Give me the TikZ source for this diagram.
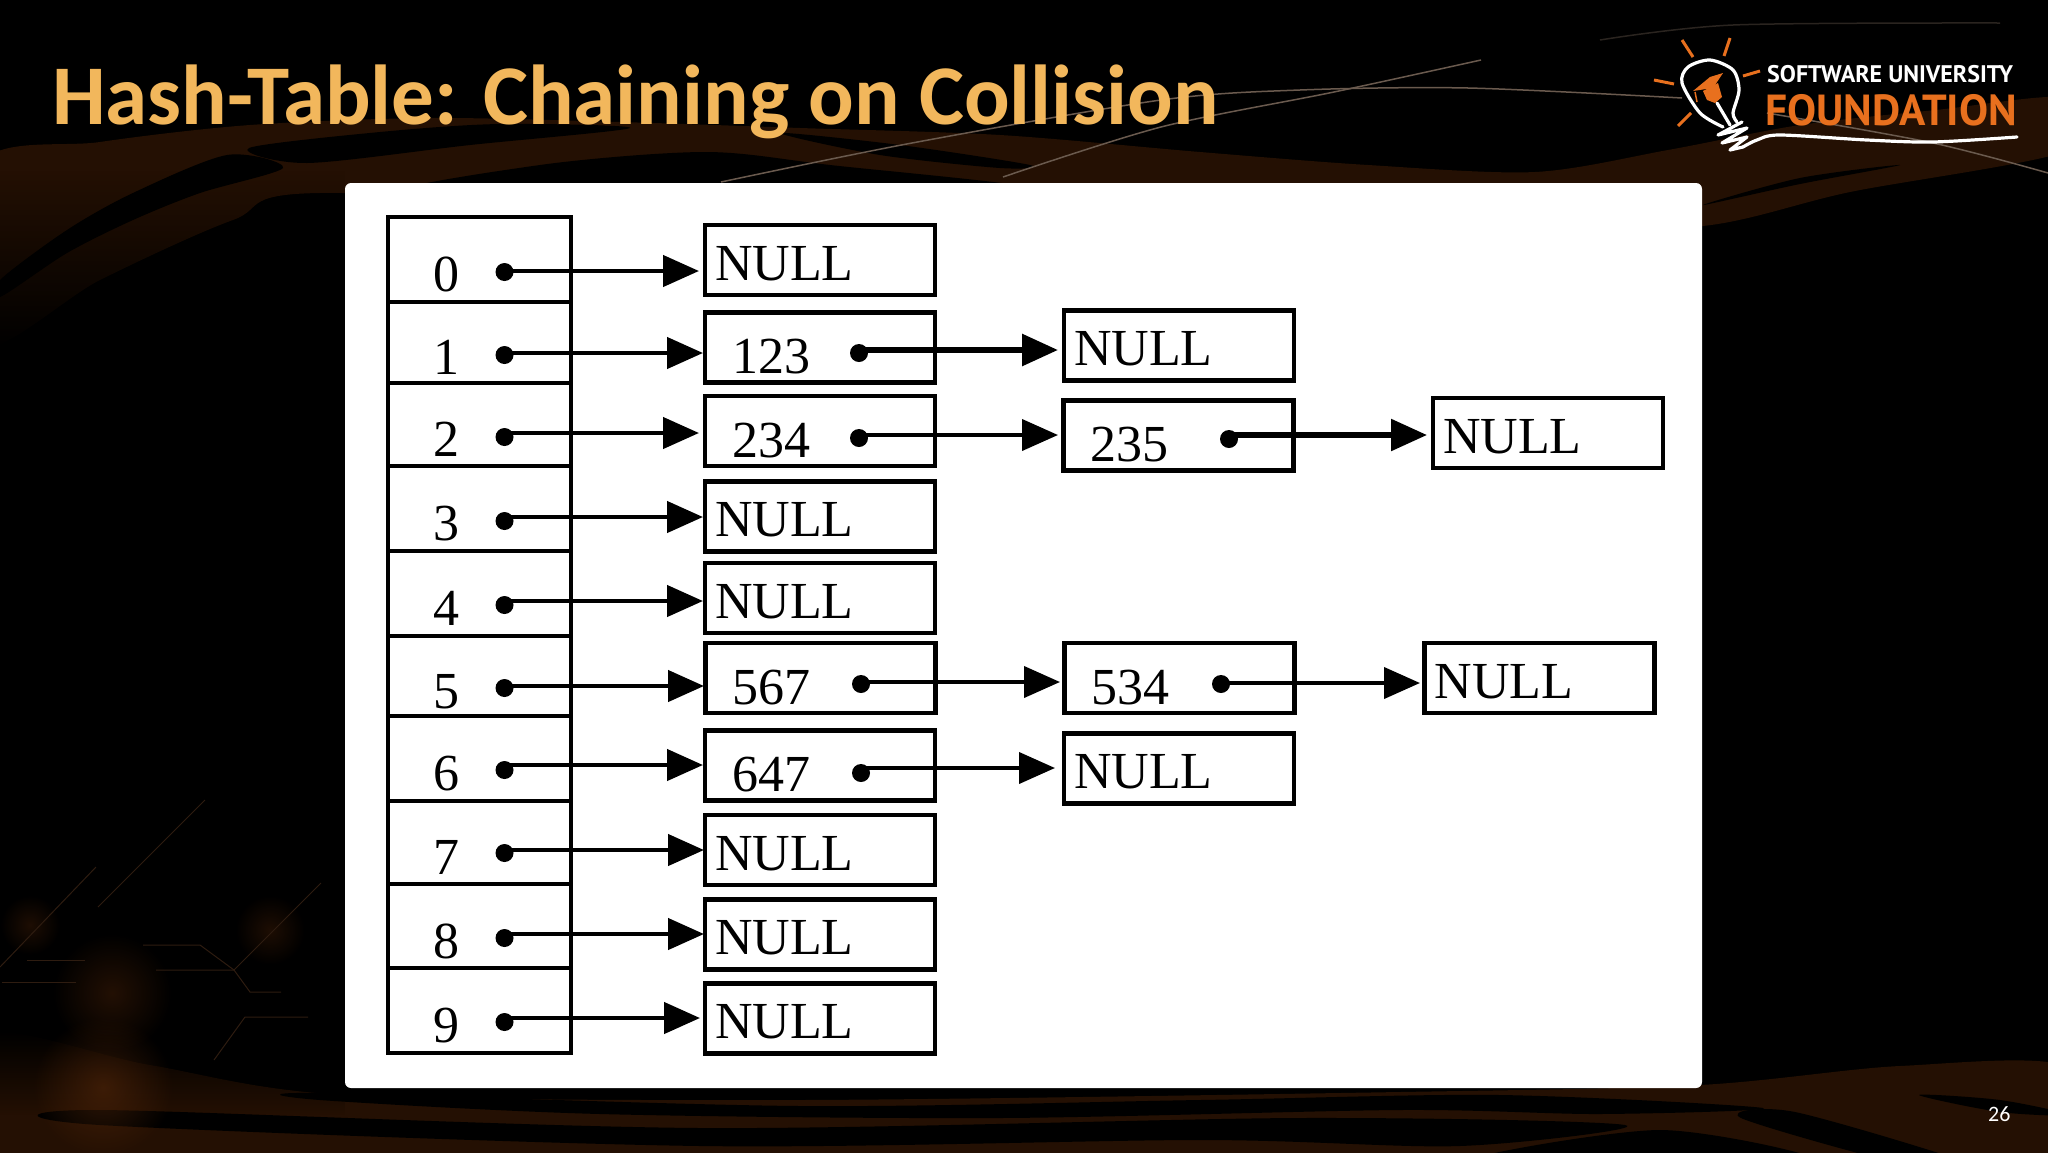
\documentclass[tikz,border=0pt]{standalone}
\usepackage{fontspec}
\setmainfont{Liberation Serif}
\newfontfamily\titlefont{Carlito}
\newfontfamily\logofont{PT Sans}
\usetikzlibrary{arrows.meta,positioning,fadings}
\definecolor{titlecol}{HTML}{F2B75C}
\definecolor{logoorange}{HTML}{E8701E}
\definecolor{banddark}{HTML}{241003}
\definecolor{bandmid}{HTML}{4E2609}
\definecolor{thread}{HTML}{6A5A4E}
\definecolor{circuit}{HTML}{2E1C10}
\definecolor{ember}{HTML}{5A2A0A}
\tikzfading[name=emberfade, inner color=transparent!0, outer color=transparent!100]
\tikzset{
  >={Triangle[length=36pt,width=31pt]},
  slot/.style={draw, line width=4.5pt, outer sep=0pt, inner xsep=45pt, inner ysep=0pt, text width=93pt, text height=64pt, text depth=0pt, align=left, font=\fontsize{52}{52}\selectfont},
  nullbox/.style={draw, line width=4.5pt, minimum height=70pt, inner xsep=10pt, inner ysep=0pt, text width=210pt, text height=40pt, text depth=0pt, align=left, font=\fontsize{52}{52}\selectfont},
  valbox/.style={draw, line width=4.5pt, minimum height=70pt, inner xsep=27pt, inner ysep=0pt, text width=176pt, text height=52pt, text depth=0pt, align=left, font=\fontsize{52}{52}\selectfont},
  dot/.style={circle, fill=black, inner sep=0pt, minimum size=18pt},
  glow/.style={fill=#1, path fading=emberfade, fill opacity=.55},
  wire/.style={draw=circuit, line width=1pt},
  strand/.style={draw=thread, line width=1.5pt},
  ray/.style={draw=logoorange, line width=3pt},
  bulb/.style={draw=white, line width=3.2pt, line join=round, line cap=round},
}
\begin{document}
\begin{tikzpicture}[x=1pt, y=-1pt]
  \useasboundingbox (0,0) rectangle (2048,1152);
  \fill[black] (0,0) rectangle (2048,1152);
  \clip (0,0) rectangle (2048,1152);
  % upper bands
  \shade[left color=banddark, middle color=bandmid, right color=banddark] plot[smooth cycle] coordinates {(-20,165) (100,142) (250,125) (430,118) (620,122) (800,128) (1000,135) (1200,152) (1368,165) (1535,172) (1668,150) (1800,125) (1936,110) (2070,98) (2070,150) (1850,192) (1703,226) (1500,230) (1000,230) (343,193) (233,220) (100,280) (-20,345)};
  \fill[black] plot[smooth cycle] coordinates {(0,280) (67,230) (133,193) (227,155) (283,168) (200,193) (133,220) (67,253) (0,297)};
  \fill[black] plot[smooth cycle] coordinates {(249,148) (307,163) (470,145) (630,128) (500,124) (380,132)};
  \fill[black] plot[smooth cycle] coordinates {(780,133) (900,145) (1030,165) (1000,168) (880,155)};
  \fill[black] plot[smooth cycle] coordinates {(400,195) (540,165) (705,152) (830,165) (1040,190) (800,200)};
  \fill[black] plot[smooth cycle] coordinates {(1703,205) (1800,184) (1900,165) (1800,178)};
  \fill[black, path fading=north] (-5,170) rectangle (345,350);
  % lower bands
  \shade[left color=banddark, middle color=banddark, right color=banddark] plot[smooth cycle] coordinates {(-20,1035) (150,1065) (345,1095) (800,1100) (1400,1092) (1700,1085) (1900,1066) (2070,1068) (2070,1170) (-20,1170)};
  \fill[black] plot[smooth cycle] coordinates {(320,1093) (800,1106) (1200,1100) (1500,1095) (1763,1108) (1600,1114) (1400,1110) (1000,1118) (600,1114) (320,1100)};
  \fill[black] plot[smooth cycle] coordinates {(100,1110) (700,1128) (1300,1118) (1625,1125) (1460,1146) (1200,1140) (700,1146) (100,1125)};
  \fill[black] plot[smooth cycle] coordinates {(1460,1165) (1660,1130) (1820,1165)};
  \fill[black] plot[smooth cycle] coordinates {(1741,1118) (1795,1112) (1973,1165) (1906,1165)};
  \fill[black] plot[smooth cycle] coordinates {(1919,1095) (2000,1100) (2070,1115) (2000,1112)};
  \fill[black, path fading=south] (-5,1030) rectangle (345,1115);
  % glow and circuit lines, lower left
  \fill[glow=ember] (103,1087) circle (70);
  \fill[glow=ember!70!black] (112,993) circle (60);
  \fill[glow=ember!60!black] (270,930) circle (35);
  \fill[glow=ember!60!black] (30,925) circle (30);
  \draw[wire] (205,800) -- (98,907);
  \draw[wire] (96,867) -- (0,967);
  \draw[wire] (321,883) -- (234,970) -- (156,970);
  \draw[wire] (234,970) -- (250,992) -- (281,992);
  \draw[wire] (143,945) -- (200,945) -- (234,970);
  \draw[wire] (27,960) -- (85,960);
  \draw[wire] (2,982) -- (76,982);
  \draw[wire] (308,1017) -- (245,1017) -- (214,1060);
  % thin threads
  \draw[strand] plot[smooth] coordinates {(721,182) (912,143) (1161,100) (1300,90) (1468,88) (1682,98)};
  \draw[strand] plot[smooth] coordinates {(1003,177) (1161,127) (1334,92) (1481,60)};
  \draw[strand, draw opacity=.4] plot[smooth] coordinates {(1600,40) (1733,25) (2000,23)};
  \draw[strand] plot[smooth] coordinates {(1767,113) (1933,143) (2048,173)};
  % slide title
  \node[anchor=base west, inner sep=0pt, text=titlecol, font=\titlefont\bfseries\fontsize{85}{85}\selectfont] (title) at (52,124.5) {Hash-Table: Chaining on Collision};
  % logo
  \draw[ray] (1682,40) -- (1693,57);
  \draw[ray] (1730,38) -- (1724,56);
  \draw[ray] (1760,71) -- (1743,76);
  \draw[ray] (1654,80) -- (1674,84);
  \draw[ray] (1691,113) -- (1678,126);
  \draw[bulb] plot[smooth] coordinates {(1723,127) (1700,113) (1682,83) (1688,67) (1710,60) (1733,70) (1739,90) (1733,113) (1737,122)};
  \draw[bulb] (1717,103) -- (1730,125);
  \draw[bulb] (1742,122) -- (1718,135) -- (1747,128) -- (1722,143) -- (1747,137) -- (1730,150) -- (1743,147);
  \draw[bulb] plot[smooth] coordinates {(1743,147) (1757,140) (1780,135) (1867,140) (1933,142) (2017,137)};
  \fill[logoorange] (1723,73) -- (1710,77) -- (1693,91) -- (1713,88) -- cycle;
  \fill[logoorange] (1703,91) -- (1707,100) -- (1715,103) -- (1722,97) -- (1718,83) -- cycle;
  \draw[logoorange, line width=1.5pt] (1695,92) -- (1697,102);
  \node[anchor=base west, inner sep=0pt, text=white, font=\logofont\bfseries\fontsize{24}{24}\selectfont] (logotop) at (1767,82) {SOFTWARE UNIVERSITY};
  \node[anchor=base west, inner sep=0pt, text=logoorange, font=\logofont\bfseries\fontsize{43.5}{44}\selectfont] (logobottom) at (1765,125) {FOUNDATION};
  % page number
  \node[anchor=base west, inner sep=0pt, text=white, font=\titlefont\fontsize{22}{22}\selectfont] (pagenum) at (1988,1121) {26};
  % white panel
  \fill[white, rounded corners=6pt] (345,183) rectangle (1702,1088);
  % table of slots
  \node[slot, minimum height=85pt] (slot0) at (479.5,259.5) {0};
  \node[slot, minimum height=81pt, below=0pt of slot0] (slot1) {1};
  \node[slot, minimum height=83pt, below=0pt of slot1] (slot2) {2};
  \node[slot, minimum height=85pt, below=0pt of slot2] (slot3) {3};
  \node[slot, minimum height=85pt, below=0pt of slot3] (slot4) {4};
  \node[slot, minimum height=80pt, below=0pt of slot4] (slot5) {5};
  \node[slot, minimum height=85pt, below=0pt of slot5] (slot6) {6};
  \node[slot, minimum height=83pt, below=0pt of slot6] (slot7) {7};
  \node[slot, minimum height=84pt, below=0pt of slot7] (slot8) {8};
  \node[slot, minimum height=85pt, below=0pt of slot8] (slot9) {9};
  % first column of boxes
  \node[nullbox] (head0) at (820,260) {NULL};
  \node[valbox] (head1) at (820,347.5) {123};
  \node[valbox] (head2) at (820,431) {234};
  \node[nullbox] (head3) at (820,516.5) {NULL};
  \node[nullbox] (head4) at (820,598) {NULL};
  \node[valbox] (head5) at (820.5,678) {567};
  \node[valbox] (head6) at (820,765.5) {647};
  \node[nullbox] (head7) at (820,850) {NULL};
  \node[nullbox] (head8) at (820,934.5) {NULL};
  \node[nullbox] (head9) at (820,1018.5) {NULL};
  % second column of boxes
  \node[nullbox] (next1) at (1179,345.5) {NULL};
  \node[valbox] (next2) at (1178.5,435.5) {235};
  \node[valbox] (next5) at (1179.5,678) {534};
  \node[nullbox] (next6) at (1179,768.5) {NULL};
  % third column of boxes
  \node[nullbox] (last2) at (1548,433) {NULL};
  \node[nullbox] (last5) at (1539.5,678) {NULL};
  % dots
  \node[dot] (dot0) at (504.5,272) {};
  \node[dot] (dot1) at (504.5,355) {};
  \node[dot] (dot2) at (504.5,437) {};
  \node[dot] (dot3) at (504.5,521) {};
  \node[dot] (dot4) at (504.5,605) {};
  \node[dot] (dot5) at (504.5,688) {};
  \node[dot] (dot6) at (504.5,770) {};
  \node[dot] (dot7) at (504.5,853) {};
  \node[dot] (dot8) at (504.5,938) {};
  \node[dot] (dot9) at (504.5,1022) {};
  \node[dot] (inner1) at (859,353) {};
  \node[dot] (inner2) at (859,438) {};
  \node[dot] (inner5) at (861,684) {};
  \node[dot] (inner6) at (861,773) {};
  \node[dot] (outer2) at (1229,439) {};
  \node[dot] (outer5) at (1221,684) {};
  % where the arrows end
  \coordinate (tip0) at (699,271);
  \coordinate (tip1) at (703,353);
  \coordinate (tip2) at (699,433);
  \coordinate (tip3) at (703,517);
  \coordinate (tip4) at (703,601);
  \coordinate (tip5) at (704,686);
  \coordinate (tip6) at (703,765);
  \coordinate (tip7) at (704,850);
  \coordinate (tip8) at (704,934);
  \coordinate (tip9) at (700,1018);
  \coordinate (tipa) at (1058,350);
  \coordinate (tipb) at (1058,435);
  \coordinate (tipc) at (1060,682);
  \coordinate (tipd) at (1055,768);
  \coordinate (tipe) at (1427,435);
  \coordinate (tipf) at (1420,683);
  \path[->, line width=4.5pt] (dot0 |- tip0) edge (tip0);
  \path[->, line width=4.5pt] (dot1 |- tip1) edge (tip1);
  \path[->, line width=4.5pt] (dot2 |- tip2) edge (tip2);
  \path[->, line width=4.5pt] (dot3 |- tip3) edge (tip3);
  \path[->, line width=4.5pt] (dot4 |- tip4) edge (tip4);
  \path[->, line width=4.5pt] (dot5 |- tip5) edge (tip5);
  \path[->, line width=4.5pt] (dot6 |- tip6) edge (tip6);
  \path[->, line width=4.5pt] (dot7 |- tip7) edge (tip7);
  \path[->, line width=4.5pt] (dot8 |- tip8) edge (tip8);
  \path[->, line width=4.5pt] (dot9 |- tip9) edge (tip9);
  \path[->, line width=6pt] (inner1 |- tipa) edge (tipa);
  \path[->, line width=4pt] (inner2 |- tipb) edge (tipb);
  \path[->, line width=4pt] (inner5 |- tipc) edge (tipc);
  \path[->, line width=4pt] (inner6 |- tipd) edge (tipd);
  \path[->, line width=5.5pt] (outer2 |- tipe) edge (tipe);
  \path[->, line width=4pt] (outer5 |- tipf) edge (tipf);
\end{tikzpicture}
\end{document}
